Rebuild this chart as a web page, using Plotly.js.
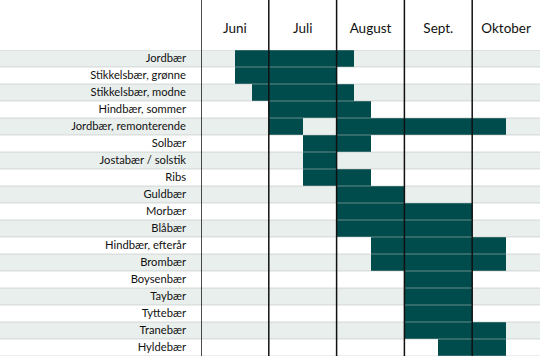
<!DOCTYPE html>
<html>
<head>
<meta charset="utf-8">
<script src="https://cdn.plot.ly/plotly-3.0.1.min.js"></script>
<style>html,body{margin:0;padding:0;background:#fff;}#chart{width:540px;height:357px;}</style>
</head>
<body>
<div id="chart"></div>
<script>
// Rows (top to bottom)
var berries = ["Jordbær","Stikkelsbær, grønne","Stikkelsbær, modne","Hindbær, sommer","Jordbær, remonterende","Solbær","Jostabær / solstik","Ribs","Guldbær","Morbær","Blåbær","Hindbær, efterår","Brombær","Boysenbær","Taybær","Tyttebær","Tranebær","Hyldebær"];
// Season segments (month number: 6 = start of June)
var segBerry = ["Jordbær","Stikkelsbær, grønne","Stikkelsbær, modne","Hindbær, sommer","Jordbær, remonterende","Jordbær, remonterende","Solbær","Jostabær / solstik","Ribs","Guldbær","Morbær","Blåbær","Hindbær, efterår","Brombær","Boysenbær","Taybær","Tyttebær","Tranebær","Hyldebær"];
var segStart = [6.5,6.5,6.75,7,7,8,7.5,7.5,7.5,8,8,8,8.5,8.5,9,9,9,9,9.5];
var segEnd   = [8.25,8,8.25,8.5,7.5,10.5,8.5,8,8.5,9,10,10,10.5,10.5,10,10,10,10.5,10.5];
var monthNames = ["Juni","Juli","August","Sept.","Oktober"];
var monthStarts = [6,7,8,9,10];

var L = 201, T = 50, W = 540, H = 357, B = 1;
var plotW = W - L, plotH = H - T - B;

var trace = {
  type: "bar", orientation: "h",
  y: segBerry,
  base: segStart,
  x: segEnd.map(function(e,i){return e - segStart[i];}),
  width: 1,
  marker: {color: "#004b4b", line: {width: 0}},
  hoverinfo: "skip"
};

var shapes = [];
berries.forEach(function(b,i){
  if (i % 2 === 0) {
    shapes.push({type:"rect", layer:"below", xref:"paper", yref:"y", x0:-L/plotW, x1:1, y0:i-0.5, y1:i+0.5, fillcolor:"#e9efed", line:{width:0}});
  }
});
for (var i = 0; i <= berries.length; i++) {
  shapes.push({type:"line", layer:"above", xref:"paper", yref:"y", x0:-L/plotW, x1:1, y0:i-0.5, y1:i-0.5, line:{color:"rgba(185,190,190,0.55)", width:1.2}});
}
monthStarts.forEach(function(m){
  shapes.push({type:"line", layer:"above", xref:"x", yref:"paper", x0:m, x1:m, y0:0, y1:1+T/plotH, line:{color:"#111", width:1.5}});
});

var layout = {
  width: W, height: H,
  margin: {l: L, r: 0, t: T, b: B, pad: 0},
  paper_bgcolor: "#fff", plot_bgcolor: "rgba(0,0,0,0)",
  showlegend: false,
  bargap: 0,
  font: {family: "Lato, 'Open Sans', sans-serif", color: "#111"},
  xaxis: {
    range: [6, 11], side: "top", showgrid: false, zeroline: false, showline: false,
    tickvals: monthStarts.map(function(m){return m + 0.5;}), ticktext: monthNames,
    ticks: "", tickfont: {size: 13.5, color: "#111"}, ticklabelstandoff: 13, fixedrange: true
  },
  yaxis: {
    type: "category", categoryorder: "array", categoryarray: berries,
    range: [berries.length - 0.5, -0.5], showgrid: false, zeroline: false, showline: false,
    ticks: "", tickfont: {size: 11.2, color: "#111"}, ticklabelstandoff: 14, fixedrange: true
  },
  shapes: shapes
};

Plotly.newPlot("chart", [trace], layout, {displayModeBar: false, staticPlot: true});
</script>
</body>
</html>
